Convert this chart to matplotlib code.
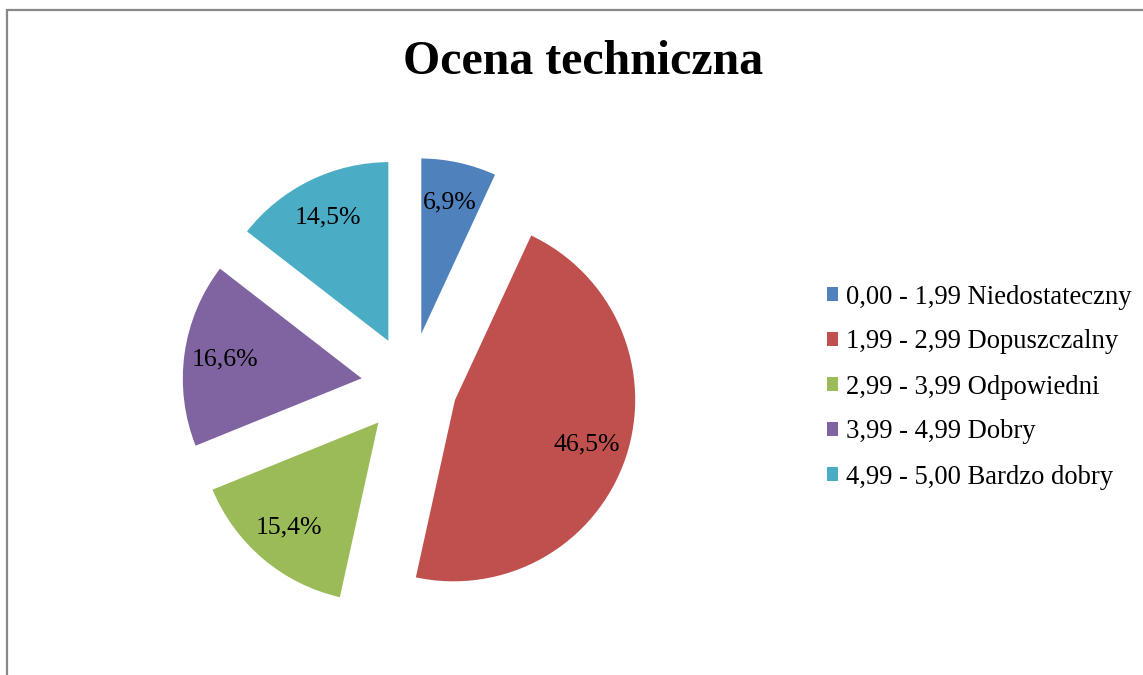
import matplotlib
matplotlib.use("Agg")
import matplotlib.pyplot as plt
from matplotlib.patches import Rectangle

plt.rcParams['font.family'] = ['Liberation Serif', 'DejaVu Serif']

categories = ["0,00 - 1,99 Niedostateczny", "1,99 - 2,99 Dopuszczalny",
              "2,99 - 3,99 Odpowiedni", "3,99 - 4,99 Dobry", "4,99 - 5,00 Bardzo dobry"]
values = [6.9, 46.5, 15.4, 16.6, 14.5]
colors = ["#4F81BD", "#C0504D", "#9BBB59", "#8064A2", "#4BACC6"]
title = "Ocena techniczna"

W, H = 1143, 675
fig = plt.figure(figsize=(W / 100, H / 100), dpi=100)
ax = fig.add_axes([0, 0, 1, 1])

R = 183
wedges, texts, autotexts = ax.pie(
    values, colors=colors, startangle=90, counterclock=False,
    radius=R, center=(410, H - 385), explode=[46] * len(values),
    autopct=lambda p: f"{p:.1f}%".replace('.', ','), pctdistance=0.77,
    wedgeprops=dict(edgecolor='white', linewidth=2),
    textprops=dict(fontsize=18.5, color='black'))
ax.set_xlim(0, W)
ax.set_ylim(0, H)
ax.set_aspect('auto')
ax.axis('off')

fig.text(583 / W, 1 - 62 / H, title, ha='center', va='center',
         fontsize=34.5, fontweight='bold')

leg = fig.legend(wedges, categories, loc='center left',
                 bbox_to_anchor=(814 / W, 1 - 387 / H), frameon=False,
                 fontsize=19.2, handlelength=0.4, handleheight=0.4,
                 handletextpad=0.3, labelspacing=0.75, borderpad=0)
for h in leg.legend_handles:
    h.set_edgecolor('none')

border = Rectangle((7 / W, -0.1), 1.2, 1 - 10 / H + 0.1, transform=fig.transFigure,
                   fill=False, edgecolor='#888888', linewidth=1.6)
fig.add_artist(border)

fig.savefig("out.png", dpi=100)
